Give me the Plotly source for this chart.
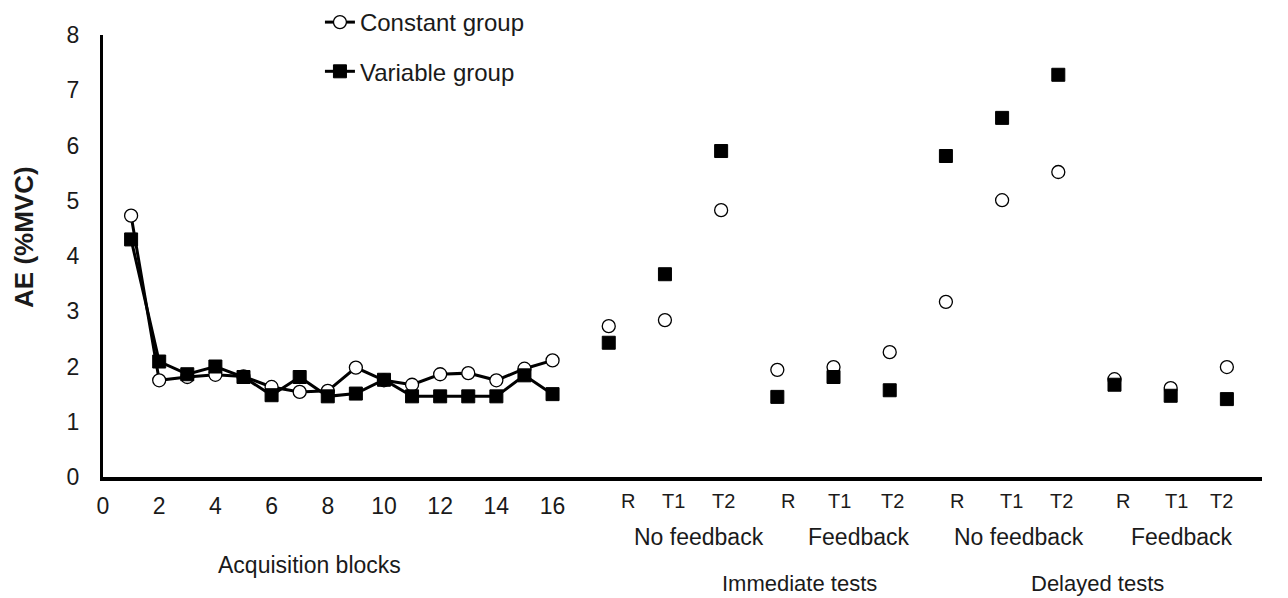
import plotly.graph_objects as go

# Acquisition blocks
blocks = list(range(1, 17))
constant_acq = [4.73, 1.75, 1.81, 1.85, 1.82, 1.63, 1.54, 1.56, 1.98, 1.75, 1.67, 1.86, 1.88, 1.75, 1.96, 2.11]
variable_acq = [4.30, 2.09, 1.86, 2.00, 1.81, 1.48, 1.81, 1.46, 1.51, 1.76, 1.46, 1.46, 1.46, 1.46, 1.84, 1.50]

# Test points (x positions on the shared axis)
test_x = [18, 20, 22, 24, 26, 28, 30, 32, 34, 36, 38, 40]
constant_test = [2.73, 2.84, 4.83, 1.94, 1.99, 2.26, 3.17, 5.01, 5.52, 1.77, 1.61, 1.99]
variable_test = [2.43, 3.67, 5.90, 1.45, 1.81, 1.57, 5.81, 6.50, 7.28, 1.67, 1.47, 1.41]

# Tick labels
acq_ticks = [0, 2, 4, 6, 8, 10, 12, 14, 16]
test_tick_pos = [18.68, 20.32, 22.1, 24.38, 26.23, 28.11, 30.39, 32.35, 34.13, 36.3, 38.19, 39.82]
test_tick_text = ["R", "T1", "T2", "R", "T1", "T2", "R", "T1", "T2", "R", "T1", "T2"]

cond_labels = ["No feedback", "Feedback", "No feedback", "Feedback"]
cond_pos = [21.2, 26.9, 32.6, 38.4]
phase_labels = ["Immediate tests", "Delayed tests"]
phase_pos = [24.8, 35.4]

FONT = "Liberation Sans, Arial, sans-serif"
INK = "#1a1a1a"

fig = go.Figure()

fig.add_trace(go.Scatter(
    x=blocks, y=constant_acq, mode="lines+markers", name="Constant group",
    legendgroup="c",
    line=dict(color="black", width=3),
    marker=dict(symbol="circle", size=13, color="white", line=dict(color="black", width=1.3)),
))
fig.add_trace(go.Scatter(
    x=test_x, y=constant_test, mode="markers", showlegend=False, legendgroup="c",
    marker=dict(symbol="circle", size=13, color="white", line=dict(color="black", width=1.3)),
))
fig.add_trace(go.Scatter(
    x=blocks, y=variable_acq, mode="lines+markers", name="Variable group",
    legendgroup="v",
    line=dict(color="black", width=3),
    marker=dict(symbol="square", size=13, color="black", line=dict(color="black", width=1)),
))
fig.add_trace(go.Scatter(
    x=test_x, y=variable_test, mode="markers", showlegend=False, legendgroup="v",
    marker=dict(symbol="square", size=13, color="black", line=dict(color="black", width=1)),
))

annotations = []
for t, p in zip(test_tick_text, test_tick_pos):
    annotations.append(dict(x=p, y=-0.0543, xref="x", yref="paper", text=t, showarrow=False,
                            xanchor="center", yanchor="middle", font=dict(family=FONT, size=20, color=INK)))
for t, p in zip(cond_labels, cond_pos):
    annotations.append(dict(x=p, y=-0.1357, xref="x", yref="paper", text=t, showarrow=False,
                            xanchor="center", yanchor="middle", font=dict(family=FONT, size=23, color=INK)))
for t, p in zip(phase_labels, phase_pos):
    annotations.append(dict(x=p, y=-0.240, xref="x", yref="paper", text=t, showarrow=False,
                            xanchor="center", yanchor="middle", font=dict(family=FONT, size=22, color=INK)))
annotations.append(dict(x=7.35, y=-0.199, xref="x", yref="paper", text="Acquisition blocks", showarrow=False,
                        xanchor="center", yanchor="middle", font=dict(family=FONT, size=23, color=INK)))
annotations.append(dict(x=-0.0682, y=0.543, xref="paper", yref="paper", text="<b>AE (%MVC)</b>",
                        showarrow=False, textangle=-90, xanchor="center", yanchor="middle",
                        font=dict(family=FONT, size=26, color=INK)))

fig.update_layout(
    width=1288, height=598,
    margin=dict(l=103, r=26, t=35, b=121, autoexpand=False),
    paper_bgcolor="white", plot_bgcolor="white",
    showlegend=True,
    legend=dict(xref="container", yref="container", x=0.2484, y=1.0, xanchor="left", yanchor="top",
                font=dict(family=FONT, size=24, color=INK),
                tracegroupgap=15, traceorder="grouped",
                bgcolor="rgba(0,0,0,0)", itemwidth=30),
    annotations=annotations,
    font=dict(family=FONT, color=INK),
)

fig.update_xaxes(
    range=[0, 41.25],
    tickvals=acq_ticks,
    ticktext=[str(v) for v in acq_ticks],
    showgrid=False, zeroline=False,
    showline=True, linecolor="black", linewidth=3.5,
    ticks="", tickfont=dict(family=FONT, size=23, color=INK),
    ticklabelstandoff=6,
)
fig.update_yaxes(
    range=[0, 8], dtick=1,
    showgrid=False, zeroline=False,
    showline=True, linecolor="black", linewidth=3,
    ticks="", tickfont=dict(family=FONT, size=23, color=INK),
    ticklabelstandoff=16,
)

fig.write_html("out.html")
